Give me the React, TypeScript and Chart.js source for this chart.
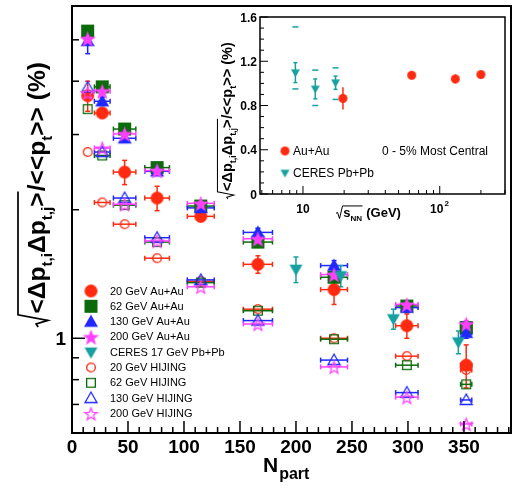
import React, { useEffect, useRef } from "react";
import { Chart, registerables } from "chart.js";
Chart.register(...registerables);

const W = 520;
const H = 489;
const FONT = '"Liberation Sans", Arial, Helvetica, sans-serif';

const RED = "#ff2a10";
const GREEN = "#0b6b0b";
const BLUE = "#1e28ff";
const MAGENTA = "#ff40ff";
const TEAL = "#17a0a0";

// ---------------- main plot data ----------------
const nPart = [14, 27, 47, 76, 115, 166, 234, 299, 352];
const nPartErr = [0, 7, 10, 11, 12, 13, 12, 10, 5];
const auau20 = [3.7, 3.37, 2.45, 2.13, 1.93, 1.49, 1.3, 1.07, 0.865];
const auau20Err = [0.3, 0.08, 0.16, 0.14, 0.05, 0.07, 0.1, 0.07, 0.1];
const auau62 = [5.24, 3.88, 3.09, 2.51, 2.04, 1.68, 1.39, 1.19, 1.06];
const auau62Err = [0.1, 0.05, 0.05, 0.04, 0.03, 0.03, 0.03, 0.02, 0.02];
const auau130 = [4.97, 3.59, 2.94, 2.46, 2.02, 1.77, 1.48, 1.18, 1.03];
const auau130Err = [0.33, 0.08, 0.06, 0.05, 0.04, 0.04, 0.04, 0.03, 0.03];
const auau200 = [5.03, 3.79, 3.01, 2.47, 2.07, 1.71, 1.41, 1.2, 1.08];
const auau200Err = [0.1, 0.05, 0.05, 0.04, 0.03, 0.03, 0.03, 0.02, 0.02];
const ceresNPart = [200, 240, 287, 345];
const ceres17 = [1.45, 1.4, 1.11, 0.98];
const ceres17Err = [0.1, 0.08, 0.06, 0.06];
const hijing20 = [2.73, 2.08, 1.85, 1.54, 1.36, 1.17, 1.0, 0.908, 0.843];
const hijing62 = [3.44, 2.68, 2.05, 1.68, 1.35, 1.16, 0.995, 0.865, 0.78];
const hijing130 = [3.87, 2.73, 2.13, 1.72, 1.37, 1.1, 0.889, 0.746, 0.717];
const hijing200 = [3.76, 2.79, 2.06, 1.69, 1.32, 1.08, 0.857, 0.728, 0.63];

const xTickValues = [0, 50, 100, 150, 200, 250, 300, 350];
const xTickLabels = ["0", "50", "100", "150", "200", "250", "300", "350"];
const yMajorValues = [1];
const yMajorLabels = ["1"];
const yMinorValues = [0.7, 0.8, 0.9, 2, 3, 4, 5];

// ---------------- inset data ----------------
const ceresSqrtS = [8.8, 12.3, 17.3];
const ceresCentral = [1.097, 0.95, 1.006];
const ceresStat = [0.09, 0.09, 0.06];
const ceresSysHi = [1.51, 1.12, 1.14];
const ceresSysLo = [0.95, 0.8, 0.855];
const auauSqrtS = [19.6, 62.4, 130, 200];
const auauCentral = [0.864, 1.073, 1.04, 1.08];
const auauStat = [0.1, 0.02, 0.04, 0.02];

const insetYTicks = [0, 0.4, 0.8, 1.2, 1.6];
const insetYLabels = ["0", "0.4", "0.8", "1.2", "1.6"];
const insetXMajor = [10, 100];

// ---------------- helpers ----------------
type Seg = { t: string; k?: "sub" | "sup" };

function makeMarker(kind: string, size: number, color: string, filled: boolean, lw = 1.3) {
  const pad = 2;
  const n = Math.ceil(size + pad * 2);
  const c = document.createElement("canvas");
  c.width = n;
  c.height = n;
  const g = c.getContext("2d")!;
  const cx = n / 2;
  const cy = n / 2;
  const r = size / 2;
  g.beginPath();
  if (kind === "circle") {
    g.arc(cx, cy, filled ? r : r - lw / 2, 0, Math.PI * 2);
  } else if (kind === "square") {
    const s = filled ? r : r - lw / 2;
    g.rect(cx - s, cy - s, 2 * s, 2 * s);
  } else if (kind === "triangle") {
    g.moveTo(cx, cy - r);
    g.lineTo(cx + r, cy + r * 0.75);
    g.lineTo(cx - r, cy + r * 0.75);
    g.closePath();
  } else if (kind === "triangleDown") {
    g.moveTo(cx, cy + r);
    g.lineTo(cx + r, cy - r * 0.75);
    g.lineTo(cx - r, cy - r * 0.75);
    g.closePath();
  } else if (kind === "star") {
    const R = r;
    const ri = R * 0.42;
    for (let i = 0; i < 10; i++) {
      const a = -Math.PI / 2 + (i * Math.PI) / 5;
      const rr = i % 2 === 0 ? R : ri;
      g.lineTo(cx + rr * Math.cos(a), cy + 1 + rr * Math.sin(a));
    }
    g.closePath();
  }
  if (filled) {
    g.fillStyle = color;
    g.fill();
  } else {
    g.strokeStyle = color;
    g.lineWidth = lw;
    g.stroke();
  }
  return c;
}

function richWidth(ctx: CanvasRenderingContext2D, segs: Seg[], size: number) {
  let w = 0;
  for (const s of segs) {
    const fs = s.k ? size * 0.62 : size;
    ctx.font = `bold ${fs}px ${FONT}`;
    w += ctx.measureText(s.t).width;
  }
  return w;
}

function drawRich(ctx: CanvasRenderingContext2D, segs: Seg[], x: number, y: number, size: number) {
  let cx = x;
  for (const s of segs) {
    const fs = s.k ? size * 0.62 : size;
    ctx.font = `bold ${fs}px ${FONT}`;
    const dy = s.k === "sub" ? size * 0.28 : s.k === "sup" ? -size * 0.42 : 0;
    ctx.fillText(s.t, cx, y + dy);
    cx += ctx.measureText(s.t).width;
  }
  return cx - x;
}

function radicalWidth(ctx: CanvasRenderingContext2D, root: Seg[], rest: Seg[], size: number) {
  return size * 0.6 + richWidth(ctx, root, size) + richWidth(ctx, rest, size);
}

function drawRadical(
  ctx: CanvasRenderingContext2D,
  root: Seg[],
  rest: Seg[],
  x: number,
  y: number,
  size: number,
  oh: number
) {
  const rw = size * 0.55;
  const cw = richWidth(ctx, root, size);
  const top = y - size * oh;
  ctx.save();
  ctx.strokeStyle = "#000";
  ctx.lineWidth = Math.max(1, size * 0.07);
  ctx.lineJoin = "miter";
  ctx.beginPath();
  ctx.moveTo(x, y - size * 0.28);
  ctx.lineTo(x + size * 0.12, y - size * 0.36);
  ctx.lineTo(x + size * 0.27, y + size * 0.12);
  ctx.lineTo(x + size * 0.5, top);
  ctx.lineTo(x + rw + cw + size * 0.04, top);
  ctx.stroke();
  ctx.restore();
  ctx.textAlign = "left";
  ctx.textBaseline = "alphabetic";
  drawRich(ctx, root, x + rw, y, size);
  drawRich(ctx, rest, x + rw + cw + size * 0.05, y, size);
}

const yTitleRoot: Seg[] = [{ t: "<Δp" }, { t: "t,i", k: "sub" }, { t: "Δp" }, { t: "t,j", k: "sub" }, { t: ">" }];
const yTitleRest: Seg[] = [{ t: "/<<p" }, { t: "t", k: "sub" }, { t: ">> (%)" }];

function line(ctx: CanvasRenderingContext2D, x1: number, y1: number, x2: number, y2: number) {
  ctx.beginPath();
  ctx.moveTo(x1, y1);
  ctx.lineTo(x2, y2);
  ctx.stroke();
}

const errorBars = {
  id: "errorBars",
  beforeDatasetsDraw(chart: any) {
    const ctx: CanvasRenderingContext2D = chart.ctx;
    const xs = chart.scales.x;
    const ys = chart.scales.y;
    ctx.save();
    chart.data.datasets.forEach((ds: any) => {
      ctx.strokeStyle = ds.errColor;
      ctx.lineWidth = 1.5;
      const cap = ds.cap ?? 2.5;
      ds.data.forEach((p: any, i: number) => {
        const px = xs.getPixelForValue(p.x);
        const py = ys.getPixelForValue(p.y);
        const xe = ds.xErr ? ds.xErr[i] : 0;
        const ye = ds.yErr ? ds.yErr[i] : 0;
        if (xe) {
          const x1 = xs.getPixelForValue(p.x - xe);
          const x2 = xs.getPixelForValue(p.x + xe);
          line(ctx, x1, py, x2, py);
          line(ctx, x1, py - cap, x1, py + cap);
          line(ctx, x2, py - cap, x2, py + cap);
        }
        if (ye) {
          const y1 = ys.getPixelForValue(p.y - ye);
          const y2 = ys.getPixelForValue(p.y + ye);
          line(ctx, px, y1, px, y2);
          if (ds.yCaps !== false) {
            line(ctx, px - cap, y1, px + cap, y1);
            line(ctx, px - cap, y2, px + cap, y2);
          }
        }
        if (ds.sysHi) {
          const s1 = ys.getPixelForValue(ds.sysHi[i]);
          const s2 = ys.getPixelForValue(ds.sysLo[i]);
          line(ctx, px - 3, s1, px + 3, s1);
          line(ctx, px - 3, s2, px + 3, s2);
        }
      });
    });
    ctx.restore();
  },
};

function pts(xs: number[], ys: number[]) {
  return xs.map((x, i) => ({ x, y: ys[i] }));
}

export default function App() {
  const mainRef = useRef<HTMLCanvasElement>(null);
  const insetRef = useRef<HTMLCanvasElement>(null);

  useEffect(() => {
    const mk = {
      a20: makeMarker("circle", 13, RED, true),
      a62: makeMarker("square", 13, GREEN, true),
      a130: makeMarker("triangle", 14, BLUE, true),
      a200: makeMarker("star", 17, MAGENTA, true),
      ce: makeMarker("triangleDown", 13, TEAL, true),
      h20: makeMarker("circle", 10, RED, false),
      h62: makeMarker("square", 10, GREEN, false),
      h130: makeMarker("triangle", 12, BLUE, false),
      h200: makeMarker("star", 13, MAGENTA, false),
      iAu: makeMarker("circle", 9, RED, true),
      iCe: makeMarker("triangleDown", 9, TEAL, true),
    };

    const base = { pointRadius: 5, pointHoverRadius: 5, showLine: false, clip: false as any };
    const mainDatasets: any[] = [
      { label: "20 GeV Au+Au", data: pts(nPart, auau20), pointStyle: mk.a20, errColor: RED, xErr: nPartErr, yErr: auau20Err },
      { label: "62 GeV Au+Au", data: pts(nPart, auau62), pointStyle: mk.a62, errColor: GREEN, xErr: nPartErr, yErr: auau62Err },
      { label: "130 GeV Au+Au", data: pts(nPart, auau130), pointStyle: mk.a130, errColor: BLUE, xErr: nPartErr, yErr: auau130Err },
      { label: "200 GeV Au+Au", data: pts(nPart, auau200), pointStyle: mk.a200, errColor: MAGENTA, xErr: nPartErr, yErr: auau200Err },
      { label: "CERES 17 GeV Pb+Pb", data: pts(ceresNPart, ceres17), pointStyle: mk.ce, errColor: TEAL, yErr: ceres17Err },
      { label: "20 GeV HIJING", data: pts(nPart, hijing20), pointStyle: mk.h20, errColor: RED, xErr: nPartErr },
      { label: "62 GeV HIJING", data: pts(nPart, hijing62), pointStyle: mk.h62, errColor: GREEN, xErr: nPartErr },
      { label: "130 GeV HIJING", data: pts(nPart, hijing130), pointStyle: mk.h130, errColor: BLUE, xErr: nPartErr },
      { label: "200 GeV HIJING", data: pts(nPart, hijing200), pointStyle: mk.h200, errColor: MAGENTA, xErr: nPartErr },
    ].map((d, i) => ({ ...base, ...d, order: -i, backgroundColor: d.errColor, borderColor: d.errColor }));

    const mainDecor = {
      id: "mainDecor",
      afterDraw(chart: any) {
        const ctx: CanvasRenderingContext2D = chart.ctx;
        const a = chart.chartArea;
        const xs = chart.scales.x;
        const ys = chart.scales.y;
        ctx.save();
        ctx.strokeStyle = "#000";
        ctx.lineWidth = 1.5;
        for (let v = 0; v <= xs.max; v += 10) {
          const px = xs.getPixelForValue(v);
          line(ctx, px, a.bottom, px, a.bottom - (v % 50 === 0 ? 12 : 6));
        }
        yMinorValues.forEach((v) => {
          const py = ys.getPixelForValue(v);
          line(ctx, a.left, py, a.left + 7, py);
        });
        yMajorValues.forEach((v) => {
          const py = ys.getPixelForValue(v);
          line(ctx, a.left, py, a.left + 13, py);
        });
        ctx.lineWidth = 2;
        ctx.strokeRect(a.left, a.top, a.right - a.left, a.bottom - a.top);

        ctx.fillStyle = "#000";
        ctx.font = `bold 19px ${FONT}`;
        ctx.textAlign = "center";
        ctx.textBaseline = "alphabetic";
        xTickValues.forEach((v, i) => ctx.fillText(xTickLabels[i], xs.getPixelForValue(v), a.bottom + 20));
        ctx.textAlign = "right";
        yMajorValues.forEach((v, i) => ctx.fillText(yMajorLabels[i], a.left - 6, ys.getPixelForValue(v) + 7));

        // x title
        ctx.textAlign = "left";
        ctx.font = `bold 21px ${FONT}`;
        ctx.fillText("N", 263, 472);
        const nW = ctx.measureText("N").width;
        ctx.font = `bold 16px ${FONT}`;
        ctx.fillText("part", 263 + nW + 1, 479);

        // y title (rotated)
        const span = 265;
        const unit = radicalWidth(ctx, yTitleRoot, yTitleRest, 100) / 100;
        const S = span / unit;
        ctx.save();
        ctx.translate(45, 327);
        ctx.rotate(-Math.PI / 2);
        drawRadical(ctx, yTitleRoot, yTitleRest, 0, 0, S, 1.1);
        ctx.restore();

        // legend
        ctx.font = `11px ${FONT}`;
        ctx.textAlign = "left";
        ctx.textBaseline = "middle";
        chart.data.datasets.forEach((ds: any, i: number) => {
          const y = 291 + i * 15.3;
          const img = ds.pointStyle as HTMLCanvasElement;
          ctx.drawImage(img, 91 - img.width / 2, y - img.height / 2);
          ctx.fillStyle = "#000";
          ctx.fillText(ds.label, 110, y + 0.5);
        });
        ctx.restore();
      },
    };

    const mainChart = new Chart(mainRef.current!, {
      type: "scatter",
      data: { datasets: mainDatasets },
      options: {
        animation: false,
        responsive: false,
        maintainAspectRatio: false,
        events: [],
        layout: { padding: { left: 72, top: 5, right: 9, bottom: 56 } },
        scales: {
          x: { type: "linear", min: 0, max: 392, display: false },
          y: { type: "logarithmic", min: 0.6, max: 6, display: false },
        },
        plugins: { legend: { display: false }, tooltip: { enabled: false } },
      },
      plugins: [errorBars, mainDecor],
    } as any);

    // ---------------- inset ----------------
    const insetDatasets: any[] = [
      { label: "Au+Au", data: pts(auauSqrtS, auauCentral), pointStyle: mk.iAu, errColor: RED, yErr: auauStat, yCaps: false },
      {
        label: "CERES Pb+Pb",
        data: pts(ceresSqrtS, ceresCentral),
        pointStyle: mk.iCe,
        errColor: TEAL,
        yErr: ceresStat,
        sysHi: ceresSysHi,
        sysLo: ceresSysLo,
        cap: 2,
      },
    ].map((d) => ({ ...base, ...d, backgroundColor: d.errColor, borderColor: d.errColor }));

    const sRoot: Seg[] = [{ t: "s" }, { t: "NN", k: "sub" }];
    const sRest: Seg[] = [{ t: " (GeV)" }];

    const insetDecor = {
      id: "insetDecor",
      afterDraw(chart: any) {
        const ctx: CanvasRenderingContext2D = chart.ctx;
        const a = chart.chartArea;
        const xs = chart.scales.x;
        const ys = chart.scales.y;
        ctx.save();
        ctx.strokeStyle = "#000";
        ctx.lineWidth = 1;
        for (let k = 0; k <= 16; k++) {
          const v = k / 10;
          const py = ys.getPixelForValue(v);
          line(ctx, a.left, py, a.left + (k % 4 === 0 ? 8 : 4), py);
        }
        for (let dec = 1; dec <= 100; dec *= 10) {
          for (let m = 1; m <= 9; m++) {
            const v = m * dec;
            if (v < xs.min || v > xs.max) continue;
            const px = xs.getPixelForValue(v);
            line(ctx, px, a.bottom, px, a.bottom - (m === 1 ? 8 : 4));
          }
        }
        ctx.lineWidth = 1.5;
        ctx.strokeRect(a.left, a.top, a.right - a.left, a.bottom - a.top);

        ctx.fillStyle = "#000";
        ctx.font = `bold 12px ${FONT}`;
        ctx.textAlign = "right";
        ctx.textBaseline = "alphabetic";
        insetYTicks.forEach((v, i) => ctx.fillText(insetYLabels[i], a.left - 3, ys.getPixelForValue(v) + 4.5));
        // x labels
        ctx.textAlign = "center";
        const p10 = xs.getPixelForValue(insetXMajor[0]);
        ctx.fillText("10", p10, a.bottom + 19);
        const p100 = xs.getPixelForValue(insetXMajor[1]);
        ctx.textAlign = "left";
        const w10 = ctx.measureText("10").width;
        ctx.fillText("10", p100 - w10 / 2 - 3, a.bottom + 19);
        ctx.font = `bold 8px ${FONT}`;
        ctx.fillText("2", p100 + w10 / 2 - 2, a.bottom + 12);

        // x title
        drawRadical(ctx, sRoot, sRest, 336, 217, 13, 0.85);

        // y title
        const span = 157;
        const unit = radicalWidth(ctx, yTitleRoot, yTitleRest, 100) / 100;
        const S = span / unit;
        ctx.save();
        ctx.translate(232, 199);
        ctx.rotate(-Math.PI / 2);
        drawRadical(ctx, yTitleRoot, yTitleRest, 0, 0, S, 1.0);
        ctx.restore();

        // legend
        ctx.font = `12px ${FONT}`;
        ctx.textAlign = "left";
        ctx.textBaseline = "middle";
        chart.data.datasets.forEach((ds: any, i: number) => {
          const y = 151 + i * 22;
          const img = ds.pointStyle as HTMLCanvasElement;
          ctx.drawImage(img, 285 - img.width / 2, y - img.height / 2);
          ctx.fillStyle = "#000";
          ctx.fillText(ds.label, 293, y + 0.5);
        });
        ctx.fillText("0 - 5% Most Central", 382, 151.5);
        ctx.restore();
      },
    };

    const insetChart = new Chart(insetRef.current!, {
      type: "scatter",
      data: { datasets: insetDatasets },
      options: {
        animation: false,
        responsive: false,
        maintainAspectRatio: false,
        events: [],
        layout: { padding: { left: 260, top: 17, right: 15, bottom: 295 } },
        scales: {
          x: { type: "logarithmic", min: 4.85, max: 300, display: false },
          y: { type: "linear", min: 0, max: 1.6, display: false },
        },
        plugins: { legend: { display: false }, tooltip: { enabled: false } },
      },
      plugins: [errorBars, insetDecor],
    } as any);

    return () => {
      mainChart.destroy();
      insetChart.destroy();
    };
  }, []);

  return (
    <div style={{ position: "absolute", left: 0, top: 0, width: W, height: H, background: "#fff" }}>
      <canvas ref={mainRef} width={W} height={H} style={{ position: "absolute", left: 0, top: 0, width: W, height: H }} />
      <canvas ref={insetRef} width={W} height={H} style={{ position: "absolute", left: 0, top: 0, width: W, height: H }} />
    </div>
  );
}
